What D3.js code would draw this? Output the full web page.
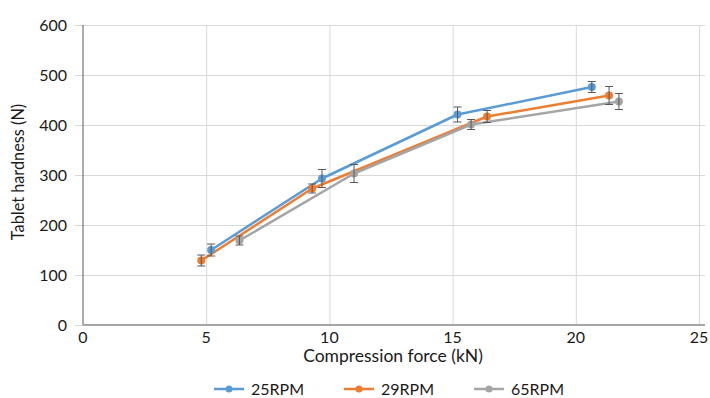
<!DOCTYPE html>
<html>
<head>
<meta charset="utf-8">
<script src="https://cdn.jsdelivr.net/npm/d3@7"></script>
<style>
  html, body { margin: 0; padding: 0; background: #fff; }
  svg { display: block; }
  text { font-family: Lato, "Open Sans", sans-serif; fill: #1a1a1a; }
</style>
</head>
<body>
<svg id="chart" width="710" height="398"></svg>
<script>
// Tablet hardness vs compression force at three press speeds
const seriesNames = ["25RPM", "29RPM", "65RPM"];
const seriesColors = ["#5B9BD5", "#ED7D31", "#A5A5A5"];

const force25 = [5.2, 9.7, 15.2, 20.65];
const hardness25 = [150, 293, 421, 476];
const sd25 = [12, 18, 15, 11];

const force29 = [4.8, 9.3, 16.4, 21.35];
const hardness29 = [129, 273, 417, 459];
const sd29 = [11, 9, 12, 18];

const force65 = [6.35, 11.0, 15.75, 21.75];
const hardness65 = [169, 303, 401, 447];
const sd65 = [9, 18, 10, 16];

const xTicks = [0, 5, 10, 15, 20, 25];
const yTicks = [0, 100, 200, 300, 400, 500, 600];

const series = [
  { name: seriesNames[0], color: seriesColors[0], x: force25, y: hardness25, e: sd25 },
  { name: seriesNames[1], color: seriesColors[1], x: force29, y: hardness29, e: sd29 },
  { name: seriesNames[2], color: seriesColors[2], x: force65, y: hardness65, e: sd65 }
];

const svg = d3.select("#chart");
const plotLeft = 83, plotRight = 699, plotTop = 25, plotBottom = 325;

const x = d3.scaleLinear().domain([0, 25]).range([plotLeft, plotRight]);
const y = d3.scaleLinear().domain([0, 600]).range([plotBottom, plotTop]);

// horizontal gridlines (extend left as tick marks)
svg.append("g")
  .attr("transform", `translate(${plotLeft},0)`)
  .call(d3.axisLeft(y).tickValues(yTicks).tickSize(-(plotRight + 6 - plotLeft)).tickSizeOuter(0).tickPadding(0))
  .call(g => g.select(".domain").remove())
  .call(g => g.selectAll(".tick line").attr("stroke", "#d9d9d9").attr("x1", -8))
  .call(g => g.selectAll(".tick text").remove());

// vertical gridlines
svg.append("g")
  .attr("transform", `translate(0,${plotBottom})`)
  .call(d3.axisBottom(x).tickValues(xTicks.slice(1)).tickSize(-(plotBottom - plotTop)).tickSizeOuter(0))
  .call(g => g.select(".domain").remove())
  .call(g => g.selectAll(".tick line").attr("stroke", "#d9d9d9"))
  .call(g => g.selectAll(".tick text").remove());

// y axis line
svg.append("line")
  .attr("x1", x(0)).attr("x2", x(0))
  .attr("y1", y(600)).attr("y2", y(0))
  .attr("stroke", "#595959").attr("stroke-width", 1);

// x axis line
svg.append("line")
  .attr("x1", x(0)).attr("x2", plotRight + 6)
  .attr("y1", y(0)).attr("y2", y(0))
  .attr("stroke", "#a6a6a6").attr("stroke-width", 2);

// tick labels
svg.append("g").selectAll("text")
  .data(yTicks).join("text")
  .attr("x", 67).attr("y", d => y(d))
  .attr("dy", "0.35em")
  .attr("text-anchor", "end")
  .attr("font-size", 16)
  .text(d => d);

svg.append("g").selectAll("text")
  .data(xTicks).join("text")
  .attr("x", d => x(d)).attr("y", 343)
  .attr("text-anchor", "middle")
  .attr("font-size", 16)
  .text(d => d);

// axis titles
svg.append("text")
  .attr("x", 393).attr("y", 362)
  .attr("text-anchor", "middle")
  .attr("font-size", 17.5)
  .text("Compression force (kN)");

svg.append("text")
  .attr("transform", `translate(24,172) rotate(-90)`)
  .attr("text-anchor", "middle")
  .attr("font-size", 16.3)
  .text("Tablet hardness (N)");

// series lines
const line = d3.line().x(d => x(d[0])).y(d => y(d[1]));
series.forEach(s => {
  const pts = s.x.map((v, i) => [v, s.y[i], s.e[i]]);
  svg.append("path")
    .datum(pts)
    .attr("d", line)
    .attr("fill", "none")
    .attr("stroke", s.color)
    .attr("stroke-width", 2.5)
    .attr("stroke-linejoin", "round");
  s.pts = pts;
});

// markers and error bars
series.forEach(s => {
  const g = svg.append("g");
  g.selectAll("circle").data(s.pts).join("circle")
    .attr("cx", d => x(d[0])).attr("cy", d => y(d[1]))
    .attr("r", 4).attr("fill", s.color);
  const eb = g.selectAll("g.eb").data(s.pts).join("g").attr("class", "eb")
    .attr("stroke", "#595959").attr("stroke-width", 1);
  eb.append("line")
    .attr("x1", d => x(d[0])).attr("x2", d => x(d[0]))
    .attr("y1", d => y(d[1] - d[2])).attr("y2", d => y(d[1] + d[2]));
  eb.append("line")
    .attr("x1", d => x(d[0]) - 4).attr("x2", d => x(d[0]) + 4)
    .attr("y1", d => y(d[1] + d[2])).attr("y2", d => y(d[1] + d[2]));
  eb.append("line")
    .attr("x1", d => x(d[0]) - 4).attr("x2", d => x(d[0]) + 4)
    .attr("y1", d => y(d[1] - d[2])).attr("y2", d => y(d[1] - d[2]));
});

// legend
const legendX = [214, 344, 474];
const legend = svg.append("g");
series.forEach((s, i) => {
  const lx = legendX[i], ly = 389;
  legend.append("line")
    .attr("x1", lx).attr("x2", lx + 30).attr("y1", ly).attr("y2", ly)
    .attr("stroke", s.color).attr("stroke-width", 2.5);
  legend.append("circle")
    .attr("cx", lx + 15).attr("cy", ly).attr("r", 3.5).attr("fill", s.color);
  legend.append("text")
    .attr("x", lx + 37).attr("y", ly).attr("dy", "0.35em")
    .attr("font-size", 16)
    .text(s.name);
});
</script>
</body>
</html>
